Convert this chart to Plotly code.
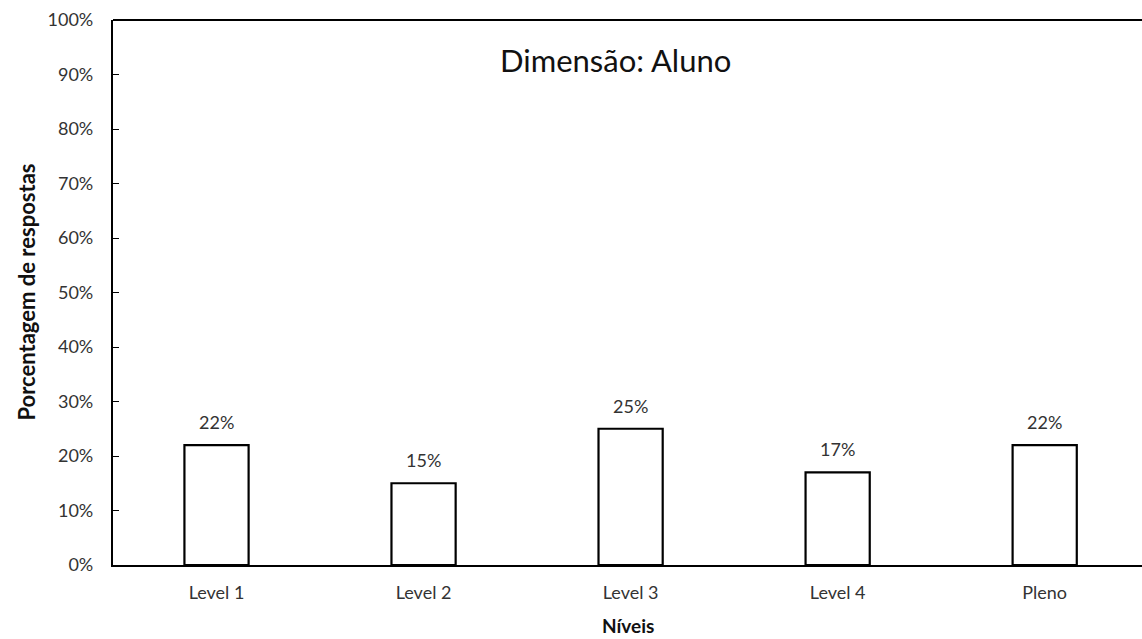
import plotly.graph_objects as go

# Response share per level, "Dimensão: Aluno"
niveis = ["Level 1", "Level 2", "Level 3", "Level 4", "Pleno"]
percentuais = [22, 15, 25, 17, 22]
y_ticks = [0, 10, 20, 30, 40, 50, 60, 70, 80, 90, 100]

FONT = "Lato, 'Open Sans', sans-serif"
TXT = "#333333"

fig = go.Figure()
fig.add_trace(go.Bar(
    x=niveis,
    y=percentuais,
    width=0.31,
    marker=dict(color="white", line=dict(color="black", width=2.2)),
    hoverinfo="skip",
))

# value labels above each bar
for n, v in zip(niveis, percentuais):
    fig.add_annotation(x=n, y=v, text=f"{v}%", showarrow=False,
                       yshift=23, font=dict(family=FONT, size=18, color=TXT))

fig.add_annotation(x=0.488, y=0.9266, xref="paper", yref="paper",
                   text="Dimensão: Aluno", showarrow=False,
                   xanchor="center", yanchor="middle",
                   font=dict(family=FONT, size=31, color="#111"))

# axis titles
fig.add_annotation(x=-0.0845, y=0.5, xref="paper", yref="paper",
                   text="<b>Porcentagem de respostas</b>", showarrow=False,
                   textangle=-90, xanchor="center", yanchor="middle",
                   font=dict(family=FONT, size=22, color="#111"))
fig.add_annotation(x=0.5, y=-0.111, xref="paper", yref="paper",
                   text="<b>Níveis</b>", showarrow=False,
                   xanchor="center", yanchor="middle",
                   font=dict(family=FONT, size=19, color="#111"))

# top frame line
fig.add_shape(type="line", xref="paper", yref="paper", x0=0, x1=1, y0=1, y1=1,
              line=dict(color="black", width=2.2))

fig.update_layout(
    width=1142, height=639,
    margin=dict(l=113, r=0, t=20, b=74),
    paper_bgcolor="white", plot_bgcolor="white",
    showlegend=False,
    bargap=0.69,
    font=dict(family=FONT, color=TXT),
)
fig.update_xaxes(
    range=[-0.5, 4.47],
    showline=True, linecolor="black", linewidth=2.2,
    ticks="", showgrid=False,
    ticklabelstandoff=10,
    tickfont=dict(family=FONT, size=18, color=TXT),
)
fig.update_yaxes(
    range=[0, 100],
    tickvals=y_ticks, ticktext=[f"{t}%" for t in y_ticks],
    showline=True, linecolor="black", linewidth=2.2,
    ticks="inside", ticklen=6, tickcolor="black", tickwidth=1,
    showgrid=False, zeroline=False,
    ticklabelstandoff=14,
    tickfont=dict(family=FONT, size=18, color=TXT),
)

fig.write_html("out.html")
